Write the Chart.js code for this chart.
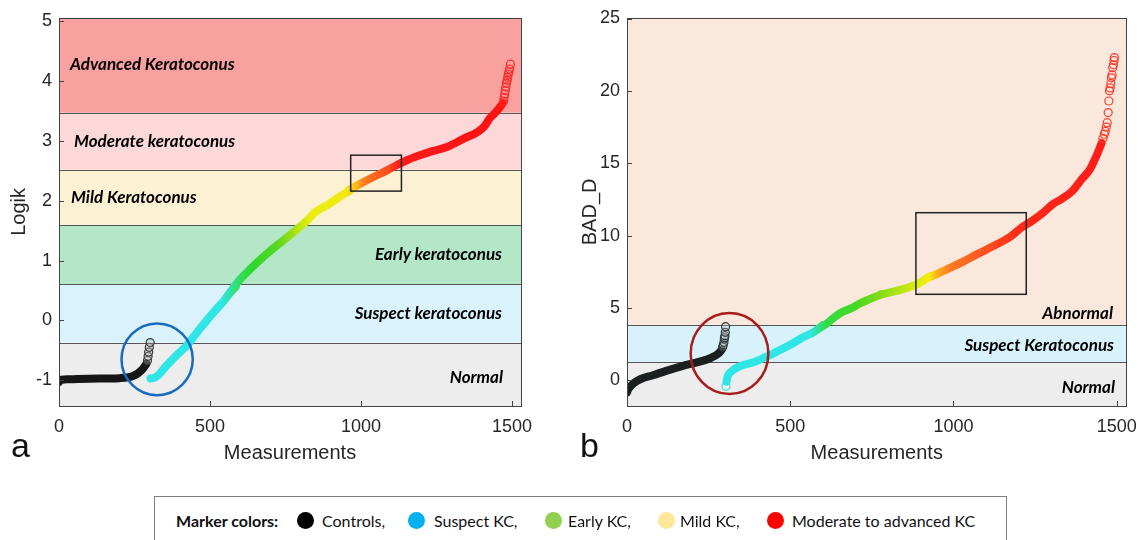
<!DOCTYPE html>
<html><head><meta charset="utf-8">
<script src="https://cdn.jsdelivr.net/npm/chart.js@4.4.1/dist/chart.umd.min.js"></script>
<style>
html,body{margin:0;padding:0;background:#fff;}
body{width:1147px;height:540px;position:relative;overflow:hidden;font-family:"Liberation Sans",Arial,sans-serif;}
.wrap{position:absolute;top:0;height:468px;}
#wa{left:0;width:545px;}
#wb{left:570px;width:577px;}
.band{position:absolute;font-family:Lato,"Open Sans",sans-serif;font-weight:700;font-style:italic;font-size:17px;color:#000;white-space:nowrap;line-height:1;transform:translateY(-50%);}
.band.r{transform:translate(-100%,-50%);}
.panel{position:absolute;font-family:"Liberation Sans",Arial,sans-serif;font-size:34px;color:#111;line-height:1;}
#legend{position:absolute;left:154px;top:496px;width:853px;height:60px;border:1px solid #7f7f7f;box-sizing:border-box;}
.li{position:absolute;top:521px;transform:translateY(-50%);font-family:Lato,sans-serif;font-size:16px;color:#111;white-space:nowrap;line-height:1;}
.dot{position:absolute;width:17px;height:17px;border-radius:50%;top:512px;}
</style>
</head><body>
<div id="wa" class="wrap"><canvas id="ca"></canvas></div>
<div id="wb" class="wrap"><canvas id="cb"></canvas></div>

<div class="band" style="left:70px;top:63px">Advanced Keratoconus</div>
<div class="band" style="left:74px;top:140px">Moderate keratoconus</div>
<div class="band" style="left:71px;top:196px">Mild Keratoconus</div>
<div class="band r" style="left:502px;top:253px">Early keratoconus</div>
<div class="band r" style="left:502px;top:312px">Suspect keratoconus</div>
<div class="band r" style="left:503px;top:376px">Normal</div>

<div class="band r" style="left:1113px;top:312px">Abnormal</div>
<div class="band r" style="left:1114px;top:344px">Suspect Keratoconus</div>
<div class="band r" style="left:1115px;top:386px">Normal</div>

<div class="panel" style="left:11px;top:428px">a</div>
<div class="panel" style="left:580px;top:428px">b</div>

<div id="legend"></div>
<div class="li" style="left:176px;font-weight:700">Marker colors:</div>
<div class="dot" style="left:297px;background:#000"></div>
<div class="li" style="left:322px">Controls,</div>
<div class="dot" style="left:408px;background:#00b0f0"></div>
<div class="li" style="left:434px">Suspect KC,</div>
<div class="dot" style="left:545px;background:#92d050"></div>
<div class="li" style="left:568px">Early KC,</div>
<div class="dot" style="left:658px;background:#ffe699"></div>
<div class="li" style="left:680px">Mild KC,</div>
<div class="dot" style="left:767px;background:#ff0000"></div>
<div class="li" style="left:792px">Moderate to advanced KC</div>

<script>
// ---------- DATA ----------
const measurementTicks = [0, 500, 1000, 1500];
const logikTicks = [-1, 0, 1, 2, 3, 4, 5];
const badTicks = [0, 5, 10, 15, 20, 25];

// Panel a: Logik, sorted measurements
const logikControlsX = [0, 8, 30, 60, 100, 150, 200, 225, 245, 260, 272, 282, 290];
const logikControlsY = [-1.03, -0.99, -0.985, -0.98, -0.975, -0.97, -0.965, -0.955, -0.93, -0.89, -0.84, -0.78, -0.72];
const logikControlsOutX = [293, 295, 297, 299, 302];
const logikControlsOutY = [-0.67, -0.6, -0.53, -0.45, -0.37];
const logikSuspectX = [303, 315, 330, 357, 390, 423, 457, 486, 501, 527, 545, 563, 585];
const logikSuspectY = [-0.97, -0.96, -0.91, -0.75, -0.58, -0.42, -0.2, -0.02, 0.07, 0.22, 0.32, 0.44, 0.56];
const logikEarlyX = [560, 592, 634, 681, 741, 790];
const logikEarlyY = [0.42, 0.64, 0.86, 1.08, 1.33, 1.53];
const logikMildX = [790, 820, 847, 899, 940, 966];
const logikMildY = [1.53, 1.66, 1.8, 1.96, 2.1, 2.18];
const logikSevereX = [960, 989, 1043, 1080, 1121, 1154, 1190, 1231, 1287, 1342, 1387, 1410, 1427, 1445, 1460, 1470];
const logikSevereY = [2.18, 2.26, 2.4, 2.49, 2.6, 2.68, 2.75, 2.82, 2.9, 3.04, 3.15, 3.25, 3.38, 3.47, 3.56, 3.63];
const logikSevereOutX = [1472, 1474, 1476, 1478, 1480, 1482, 1484, 1486, 1488, 1490, 1492, 1495];
const logikSevereOutY = [3.66, 3.72, 3.78, 3.84, 3.9, 3.96, 4.01, 4.06, 4.11, 4.15, 4.2, 4.28];
const logikCutoffs = [-0.37, 0.6, 1.6, 2.52, 3.47];   // Normal | Suspect | Early | Mild | Moderate | Advanced

// Panel b: BAD_D, sorted measurements
const badControlsX = [0, 4, 11, 20, 33, 50, 77, 120, 169, 220, 259, 280, 290];
const badControlsY = [-0.85, -0.62, -0.42, -0.22, -0.02, 0.15, 0.33, 0.65, 0.98, 1.27, 1.57, 1.85, 2.1];
const badControlsOutX = [293, 295, 297, 298, 299, 300, 301, 302];
const badControlsOutY = [2.3, 2.45, 2.62, 2.85, 2.95, 3.08, 3.31, 3.7];
const badSuspectOutX = [303];
const badSuspectOutY = [-0.42];
const badSuspectX = [305, 308, 320, 349, 392, 422, 461, 500, 542, 572, 600];
const badSuspectY = [-0.1, 0.25, 0.62, 1.0, 1.27, 1.58, 2.0, 2.45, 3.0, 3.33, 3.8];
const badEarlyX = [585, 611, 635, 655, 690, 713, 745, 779];
const badEarlyY = [3.55, 3.9, 4.35, 4.67, 5.0, 5.3, 5.62, 5.94];
const badMildX = [779, 812, 845, 888, 928];
const badMildY = [5.94, 6.1, 6.3, 6.62, 7.19];
const badSevereX = [920, 960, 989, 1030, 1070, 1130, 1175, 1211, 1240, 1272, 1306, 1333, 1365, 1394, 1416, 1438, 1454];
const badSevereY = [7.05, 7.45, 7.76, 8.2, 8.68, 9.36, 9.93, 10.6, 11.0, 11.53, 12.2, 12.55, 13.1, 13.93, 14.5, 15.5, 16.4];
const badSevereOutX = [1458, 1462, 1465, 1468, 1471, 1474, 1476, 1478, 1480, 1482, 1484, 1486, 1488, 1490, 1492, 1493];
const badSevereOutY = [16.7, 17.0, 17.2, 17.5, 17.8, 18.5, 19.3, 20.0, 20.2, 20.5, 20.9, 21.1, 21.6, 21.8, 22.1, 22.3];
const badCutoffs = [1.25, 3.8];   // Normal | Suspect | Abnormal

// ---------- STYLE ----------
const logikBandColors = ['#ededed', '#d9f2fb', '#b4e6c8', '#fdf1d3', '#fdd8d8', '#f8a19e'];
const badBandColors = ['#ededed', '#d7f2fb', '#fbe8dc'];
const logikGradStops = [[300,'#2ee6e6'],[540,'#2ee6e6'],[600,'#33dd55'],[640,'#2ed82e'],[720,'#55d822'],[780,'#a8e014'],[830,'#e8ee10'],[950,'#f2ea10'],[985,'#ffb81a'],[1010,'#ff7a1e'],[1090,'#ff4a1e'],[1130,'#ff1a1a'],[1530,'#ff1010']];
const badGradStops = [[300,'#2ee6e6'],[560,'#2ee6e6'],[610,'#33dd44'],[700,'#44d822'],[780,'#88dd18'],[880,'#d6ec10'],[925,'#f2ee10'],[950,'#ffb01a'],[990,'#ff7a20'],[1100,'#ff5020'],[1200,'#ff2a18'],[1530,'#ff1a1a']];

const pts = (xs, ys) => xs.map((x, i) => ({x, y: ys[i]}));

function xGradient(chart, stops) {
  const {ctx, chartArea, scales} = chart;
  if (!chartArea || !scales.x) return stops[0][1];
  const s = scales.x;
  const g = ctx.createLinearGradient(s.getPixelForValue(s.min), 0, s.getPixelForValue(s.max), 0);
  for (const [v, c] of stops) g.addColorStop(Math.min(1, Math.max(0, (v - s.min) / (s.max - s.min))), c);
  return g;
}

const decor = {
  id: 'decor',
  beforeDatasetsDraw(chart, args, o) {
    const {ctx, chartArea: a, scales: {x, y}} = chart;
    ctx.save();
    const edges = [y.min, ...o.cutoffs, y.max];
    for (let i = 0; i < edges.length - 1; i++) {
      const y0 = y.getPixelForValue(edges[i]), y1 = y.getPixelForValue(edges[i + 1]);
      ctx.fillStyle = o.colors[i];
      ctx.fillRect(a.left, y1, a.right - a.left, y0 - y1);
    }
    ctx.strokeStyle = '#555'; ctx.lineWidth = 1;
    for (const c of o.cutoffs) {
      const py = Math.round(y.getPixelForValue(c)) + 0.5;
      ctx.beginPath(); ctx.moveTo(a.left, py); ctx.lineTo(a.right, py); ctx.stroke();
    }
    ctx.restore();
  },
  afterDatasetsDraw(chart, args, o) {
    const {ctx, chartArea: a, scales: {x, y}} = chart;
    ctx.save();
    const b = o.box;
    ctx.strokeStyle = '#222'; ctx.lineWidth = 1.5;
    const bx0 = x.getPixelForValue(b.xMin), bx1 = x.getPixelForValue(b.xMax);
    const by0 = y.getPixelForValue(b.yMax), by1 = y.getPixelForValue(b.yMin);
    ctx.strokeRect(bx0, by0, bx1 - bx0, by1 - by0);
    const r = o.ring;
    const rx0 = x.getPixelForValue(r.xMin), rx1 = x.getPixelForValue(r.xMax);
    const ry0 = y.getPixelForValue(r.yMax), ry1 = y.getPixelForValue(r.yMin);
    ctx.strokeStyle = r.color; ctx.lineWidth = r.width;
    ctx.beginPath();
    ctx.ellipse((rx0 + rx1) / 2, (ry0 + ry1) / 2, (rx1 - rx0) / 2, (ry1 - ry0) / 2, 0, 0, Math.PI * 2);
    ctx.stroke();
    ctx.strokeStyle = '#444'; ctx.lineWidth = 1;
    ctx.strokeRect(Math.round(a.left) + 0.5, Math.round(a.top) + 0.5, Math.round(a.right - a.left), Math.round(a.bottom - a.top));
    ctx.beginPath();
    for (const t of x.ticks) {
      const px = Math.round(x.getPixelForValue(t.value)) + 0.5;
      ctx.moveTo(px, a.bottom); ctx.lineTo(px, a.bottom - 5);
    }
    for (const t of y.ticks) {
      const py = Math.round(y.getPixelForValue(t.value)) + 0.5;
      ctx.moveTo(a.left, py); ctx.lineTo(a.left + 5, py);
    }
    ctx.stroke();
    ctx.restore();
  }
};

function lineSet(label, xs, ys, color) {
  return {label, data: pts(xs, ys), showLine: true, borderColor: color, borderWidth: 8,
    borderCapStyle: 'round', borderJoinStyle: 'round', cubicInterpolationMode: 'monotone',
    pointRadius: 0, pointHoverRadius: 0};
}
function markerSet(label, xs, ys, color, fill) {
  return {label, data: pts(xs, ys), showLine: false, pointRadius: 4, pointBorderWidth: 1.2,
    pointBorderColor: color, pointBackgroundColor: fill || 'rgba(255,255,255,0)'};
}

const tickFont = {family: '"Liberation Sans", Arial, sans-serif', size: 18};
const titleFont = {family: '"Liberation Sans", Arial, sans-serif', size: 20};

function makeOptions(cfg) {
  return {
    responsive: true, maintainAspectRatio: false, animation: false, devicePixelRatio: 1,
    layout: {padding: {left: 0, right: cfg.padRight, top: 15, bottom: 0}},
    plugins: {legend: {display: false}, tooltip: {enabled: false}, decor: cfg.decor},
    scales: {
      x: {type: 'linear', min: 0, max: 1530,
        afterBuildTicks: s => { s.ticks = measurementTicks.map(v => ({value: v})); },
        afterFit: s => { s.height = 62; },
        grid: {display: false, drawTicks: false}, border: {display: false},
        ticks: {padding: 10, font: tickFont, color: '#262626', maxRotation: 0, autoSkip: false, callback: v => String(v)},
        title: {display: true, text: 'Measurements', font: titleFont, color: '#262626', padding: {top: 0, bottom: 3}}},
      y: {type: 'linear', min: cfg.yMin, max: cfg.yMax,
        afterBuildTicks: s => { s.ticks = cfg.yTicks.map(v => ({value: v})); },
        afterFit: s => { s.width = cfg.yWidth; },
        grid: {display: false, drawTicks: false}, border: {display: false},
        ticks: {padding: 7, font: tickFont, color: '#262626', autoSkip: false, callback: v => String(v)},
        title: {display: true, text: cfg.yTitle, font: titleFont, color: '#262626', padding: {top: cfg.yTitlePad, bottom: 0}}}
    }
  };
}

const gradA = ctx => xGradient(ctx.chart, logikGradStops);
new Chart(document.getElementById('ca'), {
  type: 'scatter',
  data: {datasets: [
    markerSet('Controls', logikControlsOutX, logikControlsOutY, '#3a3a3a', 'rgba(190,190,190,0.35)'),
    lineSet('Controls', logikControlsX, logikControlsY, '#161616'),
    markerSet('Moderate to advanced KC', logikSevereOutX, logikSevereOutY, '#ff2a2a'),
    lineSet('Moderate to advanced KC', logikSevereX, logikSevereY, gradA),
    lineSet('Mild KC', logikMildX, logikMildY, gradA),
    lineSet('Early KC', logikEarlyX, logikEarlyY, gradA),
    lineSet('Suspect KC', logikSuspectX, logikSuspectY, gradA)
  ]},
  options: makeOptions({padRight: 24, yMin: -1.43, yMax: 5.055, yTicks: logikTicks, yWidth: 59, yTitle: 'Logik', yTitlePad: 7,
    decor: {cutoffs: logikCutoffs, colors: logikBandColors,
      box: {xMin: 966, xMax: 1134, yMin: 2.16, yMax: 2.76},
      ring: {xMin: 207, xMax: 443, yMin: -1.25, yMax: -0.05, color: '#1a6bbf', width: 2.5}}}),
  plugins: [decor]
});

const gradB = ctx => xGradient(ctx.chart, badGradStops);
new Chart(document.getElementById('cb'), {
  type: 'scatter',
  data: {datasets: [
    markerSet('Controls', badControlsOutX, badControlsOutY, '#2f3a3c', 'rgba(190,190,190,0.3)'),
    lineSet('Controls', badControlsX, badControlsY, '#1a1f20'),
    markerSet('Suspect KC', badSuspectOutX, badSuspectOutY, '#3ee0e0'),
    markerSet('Moderate to advanced KC', badSevereOutX, badSevereOutY, '#ff3a2a'),
    lineSet('Moderate to advanced KC', badSevereX, badSevereY, gradB),
    lineSet('Mild KC', badMildX, badMildY, gradB),
    lineSet('Early KC', badEarlyX, badEarlyY, gradB),
    lineSet('Suspect KC', badSuspectX, badSuspectY, gradB)
  ]},
  options: makeOptions({padRight: 15, yMin: -1.78, yMax: 25.05, yTicks: badTicks, yWidth: 57, yTitle: 'BAD_D', yTitlePad: 8,
    decor: {cutoffs: badCutoffs, colors: badBandColors,
      box: {xMin: 885, xMax: 1223, yMin: 5.94, yMax: 11.58},
      ring: {xMin: 195, xMax: 433, yMin: -0.95, yMax: 4.65, color: '#a81c1c', width: 2.5}}}),
  plugins: [decor]
});
</script>
</body></html>
